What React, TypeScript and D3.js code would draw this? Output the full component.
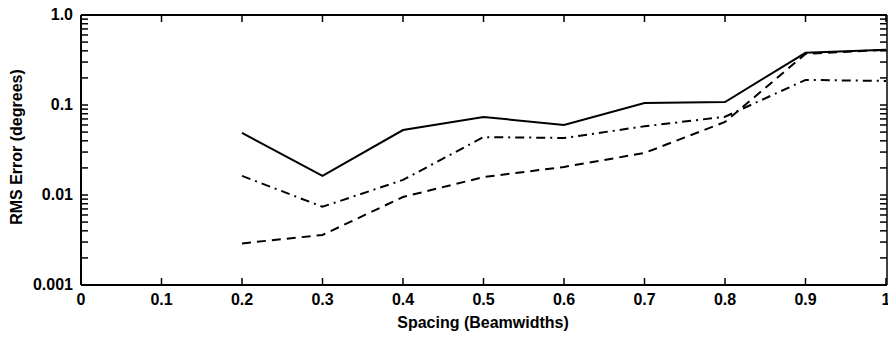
import React from "react";
import * as d3 from "d3";

const spacing = [0.2, 0.3, 0.4, 0.5, 0.6, 0.7, 0.8, 0.9, 1.0];
const solidSeries = [0.049, 0.0163, 0.0527, 0.0736, 0.06, 0.105, 0.108, 0.38, 0.41];
const dashDotSeries = [0.0163, 0.0074, 0.0147, 0.044, 0.043, 0.058, 0.074, 0.19, 0.185];
const dashedSeries = [0.0029, 0.0036, 0.0095, 0.0158, 0.0205, 0.0293, 0.0648, 0.37, 0.41];
const xTicks = [0, 0.1, 0.2, 0.3, 0.4, 0.5, 0.6, 0.7, 0.8, 0.9, 1];
const xTickLabels = ["0", "0.1", "0.2", "0.3", "0.4", "0.5", "0.6", "0.7", "0.8", "0.9", "1"];
const yMajor = [0.001, 0.01, 0.1, 1.0];
const yTickLabels = ["0.001", "0.01", "0.1", "1.0"];
const xTitle = "Spacing (Beamwidths)";
const yTitle = "RMS Error (degrees)";

export default function App() {
  const W = 888, H = 337;
  const left = 81, right = 887, top = 15, bottom = 285;
  const x = d3.scaleLinear().domain([0, 1]).range([left, left + 805]);
  const y = d3.scaleLog().domain([0.001, 1]).range([bottom, top]);
  const minor: number[] = [];
  for (let e = -3; e < 0; e++) {
    for (let k = 2; k <= 9; k++) minor.push(k * Math.pow(10, e));
  }
  const line = d3.line<number>().x((_, i) => x(spacing[i])).y((d) => y(d));
  const font = "'Liberation Sans', Arial, Helvetica, sans-serif";
  const tl = 7;
  return (
    <svg width={W} height={H} style={{ position: "absolute", left: 0, top: 0, background: "#fff" }}>
      <rect x={0} y={0} width={W} height={H} fill="#fff" />
      <line x1={left} y1={top} x2={right} y2={top} stroke="#000" strokeWidth={2} />
      <line x1={left} y1={bottom} x2={right} y2={bottom} stroke="#000" strokeWidth={2} />
      <line x1={left} y1={top} x2={left} y2={bottom} stroke="#000" strokeWidth={2} />
      <line x1={right} y1={top} x2={right} y2={bottom} stroke="#000" strokeWidth={1.5} />
      {xTicks.map((t, i) => (
        <g key={"xt" + i}>
          <line x1={x(t)} x2={x(t)} y1={bottom} y2={bottom - tl} stroke="#000" strokeWidth={1.5} />
          <line x1={x(t)} x2={x(t)} y1={top} y2={top + tl} stroke="#000" strokeWidth={1.5} />
          <text x={x(t)} y={bottom + 20} textAnchor="middle" fontFamily={font} fontWeight="bold" fontSize={16}>
            {xTickLabels[i]}
          </text>
        </g>
      ))}
      {[...yMajor, ...minor].map((v, i) => (
        <g key={"yt" + i}>
          <line x1={left} x2={left + tl} y1={y(v)} y2={y(v)} stroke="#000" strokeWidth={1.5} />
          <line x1={right} x2={right - tl} y1={y(v)} y2={y(v)} stroke="#000" strokeWidth={1.5} />
        </g>
      ))}
      {yMajor.map((v, i) => (
        <text key={"yl" + i} x={left - 8} y={y(v) + 5} textAnchor="end" fontFamily={font} fontWeight="bold" fontSize={16}>
          {yTickLabels[i]}
        </text>
      ))}
      <path d={line(solidSeries) || ""} fill="none" stroke="#000" strokeWidth={2} />
      <path d={line(dashDotSeries) || ""} fill="none" stroke="#000" strokeWidth={2} strokeDasharray="9 5 2 5" />
      <path d={line(dashedSeries) || ""} fill="none" stroke="#000" strokeWidth={2} strokeDasharray="9 6" />
      <text x={483} y={328} textAnchor="middle" fontFamily={font} fontWeight="bold" fontSize={16}>
        {xTitle}
      </text>
      <text
        transform={`translate(22,147) rotate(-90)`}
        textAnchor="middle"
        fontFamily={font}
        fontWeight="bold"
        fontSize={16}
      >
        {yTitle}
      </text>
    </svg>
  );
}
